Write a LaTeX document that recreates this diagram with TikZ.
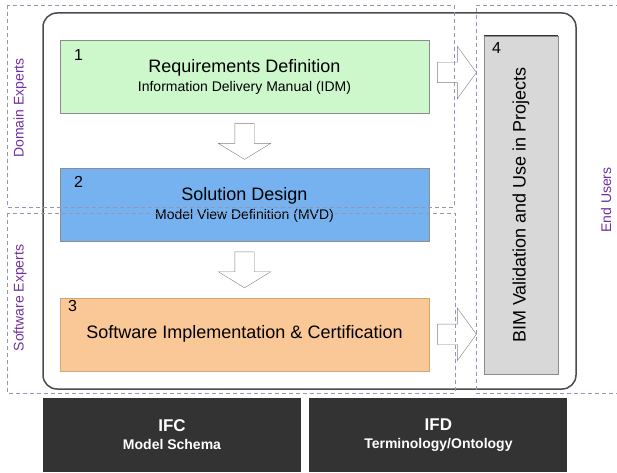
\documentclass[tikz,border=0pt]{standalone}
\usepackage{fontspec}
\setmainfont{Liberation Sans}
\usetikzlibrary{shapes.arrows, calc, positioning}
\definecolor{reqgreen}{RGB}{204,248,204}
\definecolor{solblue}{RGB}{118,178,240}
\definecolor{implorange}{RGB}{250,200,150}
\definecolor{usegray}{RGB}{216,216,216}
\definecolor{basedark}{RGB}{51,51,51}
\definecolor{rolepurple}{RGB}{112,48,160}
\definecolor{zoneline}{RGB}{150,150,178}
\newcommand{\titlefont}{\fontsize{18}{19}\selectfont}
\newcommand{\subfont}{\fontsize{14}{16}\selectfont}
\tikzstyle{frame} = [rectangle, rounded corners=14pt, minimum width=533pt, minimum height=376pt, draw=black!70, line width=1.5pt, fill=white]
\tikzstyle{stage} = [rectangle, minimum width=369pt, minimum height=73pt, text centered, align=center, draw=black!45, inner sep=0pt, font=\titlefont]
\tikzstyle{usebox} = [rectangle, minimum width=74pt, minimum height=338pt, draw=black!45, fill=usegray]
\tikzstyle{base} = [rectangle, minimum width=258pt, minimum height=74pt, fill=basedark, text=white, align=center, font=\bfseries\fontsize{17}{18}\selectfont]
\tikzstyle{stagenum} = [anchor=north west, inner sep=0pt, font=\fontsize{16}{16}\selectfont]
\tikzstyle{role} = [rotate=90, text=rolepurple, font=\fontsize{14}{16}\selectfont]
\tikzstyle{zone} = [draw=zoneline, dash pattern=on 4pt off 3pt, line width=0.6pt]
\tikzstyle{blockdown} = [single arrow, draw=black!50, fill=white, inner xsep=0pt, inner ysep=9.5pt, minimum height=36pt, single arrow head extend=16.5pt, single arrow tip angle=117, rotate=-90, anchor=tail]
\tikzstyle{blockright} = [single arrow, draw=black!50, fill=white, inner xsep=0pt, inner ysep=10pt, minimum height=39pt, single arrow head extend=16pt, single arrow tip angle=108, anchor=tail]

\begin{document}
\begin{tikzpicture}[x=1pt, y=1pt]
\useasboundingbox (0,0) rectangle (617,472);
\node (Frame) [frame] at (309.5,271) {};
\node (ReqDef) [stage, fill=reqgreen] at (244.5,395.5) {Requirements Definition\\{\subfont Information Delivery Manual (IDM)}};
\node (SolDesign) [stage, fill=solblue, below=55pt of ReqDef] {Solution Design\\{\subfont Model View Definition (MVD)}};
\node (SwImpl) [stage, fill=implorange, draw=brown!70, below=56pt of SolDesign] {Software Implementation \& Certification};
\node (BimUse) [usebox] at (521,267) {};
\node (BimText) [rotate=90, font=\titlefont] at (BimUse.center) {BIM Validation and Use in Projects};
\draw [black!80, line width=1pt] (BimUse.north west) -- (BimUse.north east);
\node (NumReq) [stagenum] at ($(ReqDef.north west)+(14,-9)$) {1};
\node (NumSol) [stagenum] at ($(SolDesign.north west)+(14,-8)$) {2};
\node (NumImpl) [stagenum] at ($(SwImpl.north west)+(8,-3)$) {3};
\node (NumUse) [stagenum] at ($(BimUse.north west)+(8,-6)$) {4};
% block arrows between the stages
\node (DownOne) [blockdown] at ($(ReqDef.south)+(0,-10)$) {};
\node (DownTwo) [blockdown] at ($(SolDesign.south)+(0,-10)$) {};
\node (RightOne) [blockright] at ($(ReqDef.east)+(8,4)$) {};
\node (RightTwo) [blockright] at ($(SwImpl.east)+(8,0)$) {};
% foundation
\node (IFC) [base] at (172,37) {IFC\\{\fontsize{14}{16}\selectfont Model Schema}};
\node (IFD) [base, right=8pt of IFC] {IFD\\{\fontsize{14}{16}\selectfont Terminology/Ontology}};
% roles
\draw [zone] (7,467) rectangle (454,265);
\draw [zone] (7,259) rectangle (455,79);
\draw [zone] (620,467) -| (476,79) -- (620,79);
\node (Domain) [role] at (20,364) {Domain Experts};
\node (Software) [role] at (20,174) {Software Experts};
\node (EndUsers) [role] at (606,272) {End Users};
\end{tikzpicture}
\end{document}
